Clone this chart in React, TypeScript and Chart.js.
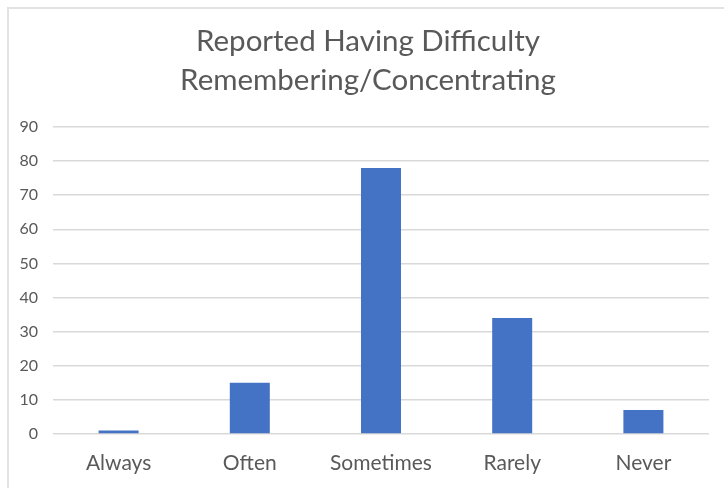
import React, { useEffect, useRef } from "react";
import { Chart, registerables } from "chart.js";

Chart.register(...registerables);

const categories = ["Always", "Often", "Sometimes", "Rarely", "Never"];
const values = [1, 15, 78, 34, 7];
const titleLines = ["Reported Having Difficulty", "Remembering/Concentrating"];
const yMin = 0;
const yMax = 90;
const yStep = 10;

const FONT = "Lato, 'Open Sans', sans-serif";
const TEXT = "#595959";

const titlePlugin = {
  id: "customTitle",
  afterDraw(chart: any) {
    const ctx = chart.ctx;
    ctx.save();
    ctx.fillStyle = TEXT;
    ctx.font = `29.5px ${FONT}`;
    ctx.textAlign = "center";
    ctx.textBaseline = "alphabetic";
    ctx.fillText(titleLines[0], 368, 51);
    ctx.fillText(titleLines[1], 368, 90);
    ctx.restore();
  },
};

export default function App() {
  const ref = useRef<HTMLCanvasElement>(null);
  useEffect(() => {
    document.body.style.margin = "0";
    document.body.style.overflow = "hidden";
    const chart = new Chart(ref.current!, {
      type: "bar",
      data: {
        labels: categories,
        datasets: [
          {
            data: values,
            backgroundColor: "#4472C4",
            borderWidth: 0,
            categoryPercentage: 1,
            barPercentage: 0.305,
          },
        ],
      },
      options: {
        responsive: false,
        animation: false,
        layout: { padding: { top: 127, right: 15, left: 0, bottom: 0 } },
        plugins: {
          legend: { display: false },
          title: { display: false },
          tooltip: { enabled: false },
        },
        scales: {
          x: {
            grid: { display: false, drawTicks: false },
            border: { display: false },
            ticks: {
              color: TEXT,
              font: { family: FONT, size: 21 },
              padding: 17,
            },
            afterFit(scale: any) {
              scale.height = 54;
            },
          },
          y: {
            min: yMin,
            max: yMax,
            ticks: {
              stepSize: yStep,
              color: TEXT,
              font: { family: FONT, size: 16 },
              padding: 15,
            },
            grid: { color: "#d9d9d9", lineWidth: 1.5, drawTicks: false },
            border: { display: false },
            afterFit(scale: any) {
              scale.width = 53;
            },
          },
        },
      },
      plugins: [titlePlugin],
    });
    return () => chart.destroy();
  }, []);
  return (
    <div style={{ position: "relative", width: 724, height: 488, overflow: "hidden", background: "#fff" }}>
      <canvas ref={ref} width={724} height={488} style={{ display: "block" }} />
      <div
        style={{
          position: "absolute",
          left: 7,
          top: 7,
          width: 800,
          height: 800,
          border: "2px solid #e3e3e3",
          pointerEvents: "none",
        }}
      />
    </div>
  );
}
